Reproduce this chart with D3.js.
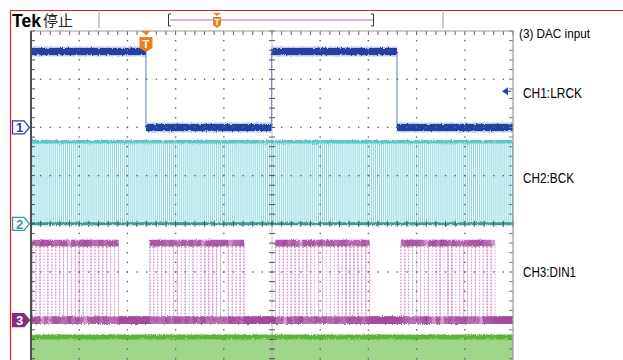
<!DOCTYPE html>
<html>
<head>
<meta charset="utf-8">
<script src="https://cdn.jsdelivr.net/npm/d3@7/dist/d3.min.js"></script>
<style>
body { margin: 0; background: #fff; }
svg { display: block; font-family: "Liberation Sans", Arial, sans-serif; }
</style>
</head>
<body>
<div id="scope"></div>
<script>
// screen: 4 us/div across 10 div, 8 vertical div
var timeDomain = [0, 40];
var divDomain = [4, -4];
var chOffsets = [2, 0, -2, -4];          // div
var chVoltsPerDiv = [2, 2, 2, 2];
var chHigh = [3.15, 3.4, 3.2, 3.3];      // volts
var chNames = ["CH1:LRCK", "CH2:BCK", "CH3:DIN1"];
var chMarkers = ["1", "2", "3"];

// LRCK slot starts (us) and level in that slot
var lrckEdges = [-0.88, 9.54, 19.96, 30.37];
var lrckStates = [1, 0, 1, 0];
var bckPerSlot = 32;
var dinBits = 24;
// DIN1 words captured by overlaid sweeps, one per slot
var dinSweeps = [
  ["B3A5C7", "9E1D4B", "C4F0A9", "E6375D"],
  ["5AC36E", "D28B71", "A9E4C2", "71B6E8"],
  ["8F2D95", "3C7AB1", "F15E2A", "4DA97C"],
  ["2E6B93", "E5A1C6", "6C93D5", "B8F41A"],
  ["4C5A38", "61E2B4", "3B0F56", "19C8A2"]
];
var triggerTime = 9.54;
var triggerLevel = 1.5;   // V on CH1

var colors = {
  ch1: "#2343a3", ch1Light: "#8da1dc",
  ch2: "#5ac7cf", ch2Dark: "#2e9c9c",
  ch3: "#a4479e", ch3Light: "#d89ad2",
  ch4: "#5db534", ch4Fill: "#9fd68a",
  trig: "#e8821e", frame: "#e02020"
};

var width = 623, height = 360;
var plot = {left: 31, top: 31, right: 513};
var divPx = (plot.right - plot.left) / 10;

var x = d3.scaleLinear().domain(timeDomain).range([plot.left, plot.right]).clamp(true);
var y = d3.scaleLinear().domain(divDomain).range([plot.top, plot.top + 8 * divPx]);

function levelY(ch, volts) {
  return y(chOffsets[ch] + volts / chVoltsPerDiv[ch]);
}

var svg = d3.select("#scope").append("svg")
    .attr("width", width)
    .attr("height", height);

var defs = svg.append("defs");
var rough = defs.append("filter").attr("id", "rough")
    .attr("filterUnits", "userSpaceOnUse")
    .attr("x", 0).attr("y", 0).attr("width", width).attr("height", height);
rough.append("feTurbulence")
    .attr("type", "fractalNoise")
    .attr("baseFrequency", "0.8 0.5")
    .attr("numOctaves", 2)
    .attr("seed", 4)
    .attr("result", "noise");
rough.append("feDisplacementMap")
    .attr("in", "SourceGraphic")
    .attr("in2", "noise")
    .attr("scale", 3)
    .attr("xChannelSelector", "R")
    .attr("yChannelSelector", "G");

defs.append("clipPath").attr("id", "plotClip")
  .append("rect")
    .attr("x", plot.left + 1).attr("y", plot.top)
    .attr("width", plot.right - plot.left - 1).attr("height", height);

// red frame
svg.append("path")
    .attr("d", "M10.5," + height + " L10.5,10.5 L" + width + ",10.5")
    .attr("fill", "none")
    .attr("stroke", colors.frame)
    .attr("stroke-width", 1.2);

// header
var head = svg.append("g");
head.append("text")
    .attr("x", 12).attr("y", 27)
    .attr("font-size", 18).attr("font-weight", "bold")
    .attr("textLength", 29).attr("lengthAdjust", "spacingAndGlyphs")
    .text("Tek");
head.append("text")
    .attr("x", 43).attr("y", 26)
    .attr("font-size", 15)
    .style("font-family", "'Noto Sans CJK SC', sans-serif")
    .attr("fill", "#222")
    .text("停止");
[99, 443].forEach(function(sx) {
  head.append("line")
      .attr("x1", sx).attr("x2", sx).attr("y1", 12).attr("y2", 28)
      .attr("stroke", "#999");
});
head.append("line")
    .attr("x1", 170).attr("x2", 373).attr("y1", 20).attr("y2", 20)
    .attr("stroke", "#b070b0").attr("stroke-width", 1.2);
head.append("path")
    .attr("d", "M171,14 L168.5,14 L168.5,26 L171,26 M371,14 L373.5,14 L373.5,26 L371,26")
    .attr("fill", "none").attr("stroke", "#333");
head.append("path")
    .attr("d", "M213,13 L221,13 L217,16 Z M213,17 L221,17 L221,25 L217,28 L213,25 Z")
    .attr("fill", colors.trig);
head.append("text")
    .attr("x", 217).attr("y", 25)
    .attr("text-anchor", "middle")
    .attr("font-size", 9).attr("font-weight", "bold")
    .attr("fill", "#fff")
    .text("T");

// graticule
var grid = svg.append("g");
var majorT = d3.range(timeDomain[0], timeDomain[1] + 0.01, 4);
var majorD = d3.range(-4, 4.01, 1);
var minorT = d3.range(timeDomain[0], timeDomain[1] + 0.01, 0.8);
var minorD = d3.range(-4, 4.01, 0.2);

majorT.slice(1, -1).forEach(function(t) {
  if (t === 20) return;
  grid.selectAll(null)
    .data(minorD.filter(function(d) { return d < 3.99; }))
    .enter().append("rect")
      .attr("x", x(t) - 0.7).attr("y", function(d) { return y(d) - 0.7; })
      .attr("width", 1.4).attr("height", 1.4)
      .attr("fill", "#666");
});
majorD.slice(1, -1).forEach(function(dv) {
  if (dv === 0) return;
  grid.selectAll(null)
    .data(minorT.slice(1, -1))
    .enter().append("rect")
      .attr("x", function(t) { return x(t) - 0.7; }).attr("y", y(dv) - 0.7)
      .attr("width", 1.4).attr("height", 1.4)
      .attr("fill", "#666");
});
// center axes with ticks
grid.append("line")
    .attr("x1", x(20)).attr("x2", x(20)).attr("y1", plot.top).attr("y2", height)
    .attr("stroke", "#888").attr("stroke-width", 0.5);
grid.append("line")
    .attr("x1", plot.left).attr("x2", plot.right).attr("y1", y(0)).attr("y2", y(0))
    .attr("stroke", "#888").attr("stroke-width", 0.5);
grid.selectAll(null).data(minorD).enter().append("line")
    .attr("x1", x(20) - 3).attr("x2", x(20) + 3)
    .attr("y1", function(d) { return y(d); }).attr("y2", function(d) { return y(d); })
    .attr("stroke", "#555");
grid.selectAll(null).data(minorT).enter().append("line")
    .attr("x1", function(t) { return x(t); }).attr("x2", function(t) { return x(t); })
    .attr("y1", y(0) - 3).attr("y2", y(0) + 3)
    .attr("stroke", "#555");
// border ticks
grid.selectAll(null).data(minorT).enter().append("line")
    .attr("x1", function(t) { return x(t); }).attr("x2", function(t) { return x(t); })
    .attr("y1", plot.top).attr("y2", plot.top + 4)
    .attr("stroke", "#666");
grid.selectAll(null).data(minorD).enter().append("line")
    .attr("x1", plot.left).attr("x2", plot.left + 4)
    .attr("y1", function(d) { return y(d); }).attr("y2", function(d) { return y(d); })
    .attr("stroke", "#555");
grid.selectAll(null).data(minorD).enter().append("line")
    .attr("x1", plot.right - 4).attr("x2", plot.right)
    .attr("y1", function(d) { return y(d); }).attr("y2", function(d) { return y(d); })
    .attr("stroke", "#777");

// traces
var traces = svg.append("g").attr("clip-path", "url(#plotClip)");
var slotLen = lrckEdges[1] - lrckEdges[0];
var bitT = slotLen / bckPerSlot;

function hLine(g, t0, t1, yy) {
  return g.append("line")
      .attr("x1", x(t0)).attr("x2", x(t1))
      .attr("y1", yy).attr("y2", yy);
}

// CH4 (MCLK, dense) - fill below its high level
traces.append("rect")
    .attr("x", x(timeDomain[0])).attr("width", x(timeDomain[1]) - x(timeDomain[0]))
    .attr("y", levelY(3, chHigh[3]) + 2).attr("height", height)
    .attr("fill", colors.ch4Fill);
hLine(traces, timeDomain[0], timeDomain[1], levelY(3, chHigh[3]))
    .attr("stroke", colors.ch4).attr("stroke-width", 5)
    .attr("filter", "url(#rough)");

// CH2 BCK
var bckPts = [];
lrckEdges.forEach(function(s) {
  d3.range(bckPerSlot).forEach(function(k) {
    bckPts.push({t: s + k * bitT, v: 0});
    bckPts.push({t: s + (k + 0.5) * bitT, v: 1});
  });
});
var bckLine = d3.line()
    .x(function(d) { return x(d.t); })
    .y(function(d) { return levelY(1, d.v ? chHigh[1] : 0); })
    .curve(d3.curveStepAfter);
traces.append("path")
    .attr("d", bckLine(bckPts))
    .attr("fill", "none")
    .attr("stroke", colors.ch2).attr("stroke-width", 1)
    .attr("stroke-opacity", 0.7);
hLine(traces, timeDomain[0], timeDomain[1], levelY(1, chHigh[1]))
    .attr("stroke", colors.ch2).attr("stroke-width", 3.5)
    .attr("filter", "url(#rough)");
hLine(traces, timeDomain[0], timeDomain[1], levelY(1, 0))
    .attr("stroke", colors.ch2Dark).attr("stroke-width", 3)
    .attr("filter", "url(#rough)");

// CH3 DIN1 - overlaid sweeps
function toSegments(points) {
  var segs = [];
  points.forEach(function(p) {
    var last = segs[segs.length - 1];
    if (last && last.v === p.v) return;
    if (last) last.t1 = p.t;
    segs.push({t0: p.t, t1: timeDomain[1], v: p.v});
  });
  return segs;
}
var dinV = traces.append("g");
var dinH = traces.append("g")
    .attr("filter", "url(#rough)");
dinSweeps.forEach(function(words) {
  var pts = [];
  lrckEdges.forEach(function(s, i) {
    var bits = parseInt(words[i], 16).toString(2).padStart(dinBits, "0");
    pts.push({t: s, v: 0});
    bits.split("").forEach(function(b, k) {
      pts.push({t: s + (k + 1) * bitT, v: +b});
    });
    pts.push({t: s + (dinBits + 1) * bitT, v: 0});
  });
  var segs = toSegments(pts);
  dinV.selectAll(null).data(segs.slice(1)).enter().append("line")
      .attr("x1", function(d) { return x(d.t0); }).attr("x2", function(d) { return x(d.t0); })
      .attr("y1", levelY(2, 0)).attr("y2", levelY(2, chHigh[2]))
      .attr("stroke", colors.ch3Light).attr("stroke-width", 1)
      .attr("stroke-dasharray", "1.5,1.5");
  segs.forEach(function(d) {
    hLine(dinH, d.t0, d.t1, levelY(2, d.v ? chHigh[2] : 0))
        .attr("stroke", colors.ch3).attr("stroke-width", d.v ? 6.5 : 7.5)
        .attr("stroke-opacity", 0.55);
  });
});

// CH1 LRCK
var lrckSegs = lrckEdges.map(function(t, i) {
  return {t0: t, t1: i < lrckEdges.length - 1 ? lrckEdges[i + 1] : timeDomain[1], v: lrckStates[i]};
});
traces.selectAll(null).data(lrckSegs.slice(1)).enter().append("line")
    .attr("x1", function(d) { return x(d.t0); }).attr("x2", function(d) { return x(d.t0); })
    .attr("y1", levelY(0, 0)).attr("y2", levelY(0, chHigh[0]))
    .attr("stroke", "#7890da").attr("stroke-width", 1.2);
var ch1g = traces.append("g").attr("filter", "url(#rough)");
lrckSegs.forEach(function(d) {
  hLine(ch1g, d.t0, d.t1, levelY(0, d.v ? chHigh[0] : 0))
      .attr("stroke", colors.ch1Light).attr("stroke-width", 10)
      .attr("stroke-opacity", 0.55);
  hLine(ch1g, d.t0, d.t1, levelY(0, d.v ? chHigh[0] : 0))
      .attr("stroke", colors.ch1).attr("stroke-width", 7);
});

// graticule border on top of traces
grid.raise();
svg.append("path")
    .attr("d", "M" + plot.left + "," + height + " L" + plot.left + "," + plot.top +
               " L" + plot.right + "," + plot.top + " L" + plot.right + "," + height)
    .attr("fill", "none").attr("stroke", "#9a9a9a").attr("stroke-width", 1.2);
svg.append("line")
    .attr("x1", plot.left).attr("x2", plot.left).attr("y1", plot.top).attr("y2", height)
    .attr("stroke", "#4a4f4a").attr("stroke-width", 2);

// trigger marker (top) and level arrow (right)
var tx = x(triggerTime);
svg.append("path")
    .attr("d", "M" + (tx - 5) + ",31 L" + (tx + 5) + ",31 L" + tx + ",35 Z")
    .attr("fill", colors.trig);
svg.append("path")
    .attr("d", "M" + (tx - 6.5) + ",37 L" + (tx + 6.5) + ",37 L" + (tx + 6.5) + ",48 L" + tx + ",52 L" + (tx - 6.5) + ",48 Z")
    .attr("fill", colors.trig);
svg.append("text")
    .attr("x", tx).attr("y", 47.5)
    .attr("text-anchor", "middle")
    .attr("font-size", 11).attr("font-weight", "bold")
    .attr("fill", "#fff")
    .text("T");
var ty = levelY(0, triggerLevel);
svg.append("path")
    .attr("d", "M502," + ty + " L508," + (ty - 4) + " L508," + (ty + 4) + " Z M507," + (ty - 0.6) + " L511," + (ty - 0.6) + " L511," + (ty + 0.6) + " L507," + (ty + 0.6) + " Z")
    .attr("fill", colors.ch1);

// channel ground markers
var markerStyle = [
  {stroke: colors.ch1, fill: "#fff", text: colors.ch1},
  {stroke: colors.ch2Dark, fill: "#fff", text: colors.ch2Dark},
  {stroke: "#8a2a85", fill: "#8a2a85", text: "#fff"}
];
chMarkers.forEach(function(m, i) {
  var gy = levelY(i, 0);
  svg.append("path")
      .attr("d", "M12.5," + (gy - 6.5) + " L24," + (gy - 6.5) + " L29.5," + gy + " L24," + (gy + 6.5) + " L12.5," + (gy + 6.5) + " Z")
      .attr("fill", markerStyle[i].fill)
      .attr("stroke", markerStyle[i].stroke).attr("stroke-width", 1.3);
  svg.append("text")
      .attr("x", 19.5).attr("y", gy + 5)
      .attr("text-anchor", "middle")
      .attr("font-size", 13).attr("font-weight", "bold")
      .attr("fill", markerStyle[i].text)
      .text(m);
});

// right labels
svg.append("text")
    .attr("x", 519).attr("y", 38)
    .attr("font-size", 13.5)
    .attr("textLength", 71).attr("lengthAdjust", "spacingAndGlyphs")
    .text("(3) DAC input");
var labelY = [98, 183, 277];
var labelW = [59, 51, 53];
chNames.forEach(function(name, i) {
  svg.append("text")
      .attr("x", 523).attr("y", labelY[i])
      .attr("font-size", 14.5)
      .attr("textLength", labelW[i]).attr("lengthAdjust", "spacingAndGlyphs")
      .text(name);
});
</script>
</body>
</html>
